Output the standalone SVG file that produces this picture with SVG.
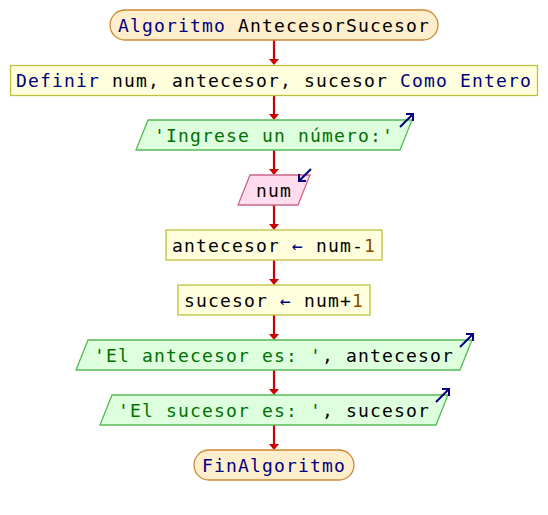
<svg xmlns="http://www.w3.org/2000/svg" width="548" height="515" viewBox="0 0 548 515">
<defs>
<style>
text{font-family:"DejaVu Sans Mono","Liberation Mono",monospace;font-size:18px;letter-spacing:1.16px;text-anchor:middle;fill:#000}
.kw{fill:#000080}
.str{fill:#007000}
.num{fill:#8a4a00}
.term{fill:#ffeecc;stroke:#cc8833;stroke-width:1.3}
.proc{fill:#ffffdd;stroke:#c0c040;stroke-width:1.3}
.out{fill:#ddffdd;stroke:#55bb55;stroke-width:1.3}
.in{fill:#ffddee;stroke:#cc6688;stroke-width:1.3}
.icon{fill:none;stroke:#000080;stroke-width:2}
.conn line{stroke:#cc0000;stroke-width:2.2;marker-end:url(#ah)}
</style>
<marker id="ah" viewBox="0 0 6 10" refX="1" refY="5" markerWidth="6" markerHeight="10" markerUnits="userSpaceOnUse" orient="auto">
<path d="M0,0 L6,5 L0,10 z" fill="#cc0000"/>
</marker>
</defs>
<rect width="548" height="515" fill="#fff"/>
<g id="connectors" class="conn">
<line x1="274" y1="40" x2="274" y2="60"/>
<line x1="274" y1="95" x2="274" y2="115"/>
<line x1="274" y1="150" x2="274" y2="170"/>
<line x1="274" y1="205" x2="274" y2="225"/>
<line x1="274" y1="260" x2="274" y2="280"/>
<line x1="274" y1="315" x2="274" y2="335"/>
<line x1="274" y1="370" x2="274" y2="390"/>
<line x1="274" y1="425" x2="274" y2="445"/>
</g>
<g id="start">
<rect class="term" x="110" y="10" width="328" height="30" rx="15"/>
<text x="274" y="32"><tspan class="kw">Algoritmo</tspan> AntecesorSucesor</text>
</g>
<g id="define">
<rect class="proc" x="10.5" y="65.5" width="527" height="30"/>
<text x="274" y="87"><tspan class="kw">Definir</tspan> num, antecesor, sucesor <tspan class="kw">Como Entero</tspan></text>
</g>
<g id="prompt">
<polygon class="out" points="148,120 412,120 400,150 136,150"/>
<text x="274" y="142" class="str">'Ingrese un número:'</text>
<path class="icon" d="M400,127 L413,114 M406,114 L413,114 L413,121"/>
</g>
<g id="read">
<polygon class="in" points="250,175 310,175 298,205 238,205"/>
<text x="274" y="197">num</text>
<path class="icon" d="M311,169 L299,181 M299,174 L299,181 L306,181"/>
</g>
<g id="assign1">
<rect class="proc" x="166" y="230" width="216" height="30"/>
<text x="274" y="252">antecesor <tspan class="kw">←</tspan> num-<tspan class="num">1</tspan></text>
</g>
<g id="assign2">
<rect class="proc" x="178" y="285" width="192" height="30"/>
<text x="274" y="307">sucesor <tspan class="kw">←</tspan> num+<tspan class="num">1</tspan></text>
</g>
<g id="write1">
<polygon class="out" points="88,340 472,340 460,370 76,370"/>
<text x="274" y="362"><tspan class="str">'El antecesor es: '</tspan>, antecesor</text>
<path class="icon" d="M460,347 L473,334 M466,334 L473,334 L473,341"/>
</g>
<g id="write2">
<polygon class="out" points="112,395 448,395 436,425 100,425"/>
<text x="274" y="417"><tspan class="str">'El sucesor es: '</tspan>, sucesor</text>
<path class="icon" d="M436,402 L449,389 M442,389 L449,389 L449,396"/>
</g>
<g id="end">
<rect class="term" x="194" y="450" width="160" height="30" rx="15"/>
<text x="274" y="472" class="kw">FinAlgoritmo</text>
</g>
</svg>
